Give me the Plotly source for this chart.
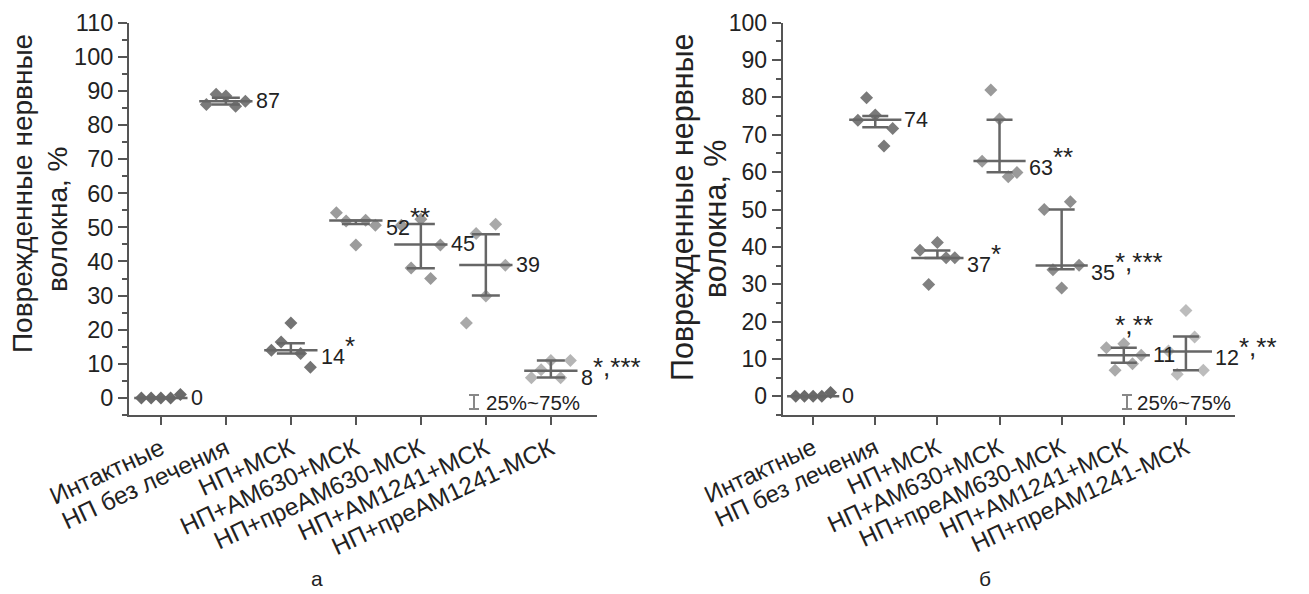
import numpy as np
import plotly.graph_objects as go

W, H = 1309, 594

categories = ["Интактные", "НП без лечения", "НП+МСК", "НП+АМ630+МСК",
              "НП+преАМ630-МСК", "НП+АМ1241+МСК", "НП+преАМ1241-МСК"]

# ---- Panel а: individual values per group (left-to-right order) ----
a_intact = [0, 0, 0, 0, 1]
a_untreated = [86, 89, 88.5, 85.5, 87]
a_msc = [14, 16.4, 22, 13, 9]
a_am630 = [54.3, 51.9, 44.8, 52.1, 50.6]
a_pream630 = [50.6, 38.1, 52.4, 35.0, 44.8]
a_am1241 = [22, 48.2, 29.9, 50.9, 38.9]
a_pream1241 = [5.9, 8.3, 11, 5.9, 11]
a_median = [0, 87, 14, 52, 45, 39, 8]
a_q1 = [0, 86, 13, 51, 38, 30, 6]
a_q3 = [0, 88, 16, 52, 51, 48, 11]
a_marks = ["", "", "*", "**", "", "", "*,***"]
a_above = ["", "", "", "", "", "", ""]
a_yticks = list(range(0, 111, 10))

# ---- Panel б ----
b_intact = [0, 0, 0, 0, 1]
b_untreated = [73.9, 79.9, 75.3, 67.0, 71.7]
b_msc = [39.1, 29.9, 41.2, 37.1, 37.1]
b_am630 = [62.9, 82, 74.2, 58.8, 59.9]
b_pream630 = [50, 33.9, 29, 52.1, 35.1]
b_am1241 = [13, 7, 14.1, 8.75, 11]
b_pream1241 = [12.1, 5.9, 23, 15.9, 7]
b_median = [0, 74, 37, 63, 35, 11, 12]
b_q1 = [0, 72, 37, 60, 34, 9, 7]
b_q3 = [0, 75, 39, 74, 50, 13, 16]
b_marks = ["", "", "*", "**", "*,***", "", "*,**"]
b_above = ["", "", "", "", "", "*,**", ""]
b_yticks = list(range(0, 101, 10))

a_groups = [a_intact, a_untreated, a_msc, a_am630, a_pream630, a_am1241, a_pream1241]
b_groups = [b_intact, b_untreated, b_msc, b_am630, b_pream630, b_am1241, b_pream1241]

# ---- styles ----
AX = "#555555"
LINE = "#666666"
TXT = "#222222"
FONT = "Liberation Sans, Arial, sans-serif"
a_colors = ["#6a6a6a", "#7a7a7a", "#747474", "#9c9c9c", "#999999", "#a9a9a9", "#b5b5b5"]
b_colors = ["#6a6a6a", "#7a7a7a", "#808080", "#9a9a9a", "#8e8e8e", "#aaaaaa", "#bcbcbc"]


def px_x(p):
    return p / W


def px_y(p):
    return 1 - p / H


fig = go.Figure()


def add_panel(groups, median, q1, q3, marks, above, colors, xref, yref, spread,
              med_half, cap_px, label_size):
    # points
    for i, vals in enumerate(groups):
        offs = np.linspace(-spread, spread, len(vals))
        fig.add_trace(go.Scatter(
            x=i + offs, y=vals, mode="markers", xaxis=xref, yaxis=yref,
            marker=dict(symbol="diamond", size=10, color=colors[i],
                        line=dict(width=0)),
            showlegend=False, hoverinfo="y"))
    # IQR error bars
    idx = list(range(len(median)))
    fig.add_trace(go.Scatter(
        x=idx, y=median, mode="markers", xaxis=xref, yaxis=yref,
        marker=dict(size=1, opacity=0),
        error_y=dict(type="data", symmetric=False,
                     array=[h - m for h, m in zip(q3, median)],
                     arrayminus=[m - l for m, l in zip(median, q1)],
                     width=cap_px, thickness=2.5, color=LINE),
        showlegend=False, hoverinfo="skip"))
    # median lines
    mx, my = [], []
    for i, m in enumerate(median):
        mx += [i - med_half, i + med_half, None]
        my += [m, m, None]
    fig.add_trace(go.Scatter(x=mx, y=my, mode="lines", xaxis=xref, yaxis=yref,
                             line=dict(color=LINE, width=2.5),
                             showlegend=False, hoverinfo="skip"))
    # labels
    for i, m in enumerate(median):
        txt = str(m)
        if marks[i]:
            txt += "<sup><span style='font-size:%dpx'>%s</span></sup>" % (label_size + 5, marks[i])
        fig.add_annotation(x=i + med_half, y=m, xref=xref, yref=yref, text=txt,
                           showarrow=False, xanchor="left", yanchor="middle",
                           xshift=1, font=dict(size=label_size, color=TXT, family=FONT))
        if above[i]:
            fig.add_annotation(x=i + 0.17, y=m, xref=xref, yref=yref,
                               text=above[i], showarrow=False, yshift=30,
                               xanchor="center", yanchor="middle",
                               font=dict(size=label_size + 5, color=TXT, family=FONT))


add_panel(a_groups, a_median, a_q1, a_q3, a_marks, a_above, a_colors,
          "x", "y", 0.3, 0.41, 14, 21.5)
add_panel(b_groups, b_median, b_q1, b_q3, b_marks, b_above, b_colors,
          "x2", "y2", 0.28, 0.42, 13, 21.5)

ydom = [px_y(415), px_y(22.7)]


def xaxis(dom, rng, fs, anchor):
    return dict(domain=dom, range=rng, tickmode="array", tickvals=list(range(len(categories))),
                ticktext=categories, tickangle=-25, ticks="outside", ticklen=8,
                tickwidth=2, tickcolor=AX, showline=True, linecolor=AX, linewidth=2,
                showgrid=False, zeroline=False, automargin=False, anchor=anchor,
                tickfont=dict(size=fs, color=TXT, family=FONT))


def yaxis(rng, ticks, fs, anchor):
    return dict(domain=ydom, range=rng, tickmode="array", tickvals=ticks,
                ticks="outside", ticklen=9, tickwidth=2, tickcolor=AX,
                minor=dict(dtick=5, tick0=0, ticks="outside", ticklen=5, tickwidth=1.5, tickcolor=AX),
                showline=True, linecolor=AX, linewidth=2, showgrid=False,
                zeroline=False, automargin=False, anchor=anchor,
                tickfont=dict(size=fs, color=TXT, family=FONT))


fig.update_layout(
    width=W, height=H, margin=dict(l=0, r=0, t=0, b=0),
    paper_bgcolor="white", plot_bgcolor="white", showlegend=False,
    xaxis=xaxis([px_x(129), px_x(597)], [-0.49, 6.71], 24.5, "y"),
    yaxis=yaxis([-5, 110], a_yticks, 23.5, "x"),
    xaxis2=xaxis([px_x(782.7), px_x(1235)], [-0.49, 6.79], 24, "y2"),
    yaxis2=yaxis([-5, 100], b_yticks, 23, "x2"),
)

# y-axis titles
for (x1, y1, x2, y2, fs) in [(23, 194, 57, 220, 28), (682, 207, 715, 219, 30.5)]:
    fig.add_annotation(x=px_x(x1), y=px_y(y1), xref="paper", yref="paper",
                       text="Поврежденные нервные", textangle=-90, showarrow=False,
                       xanchor="center", yanchor="middle",
                       font=dict(size=fs, color=TXT, family=FONT))
    fig.add_annotation(x=px_x(x2), y=px_y(y2), xref="paper", yref="paper",
                       text="волокна, %", textangle=-90, showarrow=False,
                       xanchor="center", yanchor="middle",
                       font=dict(size=fs, color=TXT, family=FONT))

# 25%~75% legend marks
for (ix, tx) in [(474, 484), (1127, 1135)]:
    fig.add_shape(type="path", xref="paper", yref="paper",
                  path="M %f %f L %f %f M %f %f L %f %f M %f %f L %f %f" % (
                      px_x(ix - 5), px_y(395), px_x(ix + 5), px_y(395),
                      px_x(ix), px_y(395), px_x(ix), px_y(409),
                      px_x(ix - 5), px_y(409), px_x(ix + 5), px_y(409)),
                  line=dict(color="#888888", width=2))
    fig.add_annotation(x=px_x(tx), y=px_y(402), xref="paper", yref="paper",
                       text="25%~75%", showarrow=False, xanchor="left", yanchor="middle",
                       font=dict(size=20.5, color=TXT, family=FONT))

# panel letters
for (lx, lt) in [(317, "а"), (985, "б")]:
    fig.add_annotation(x=px_x(lx), y=px_y(578), xref="paper", yref="paper",
                       text=lt, showarrow=False, xanchor="center", yanchor="middle",
                       font=dict(size=21, color=TXT, family=FONT))

fig.write_html("out.html")
